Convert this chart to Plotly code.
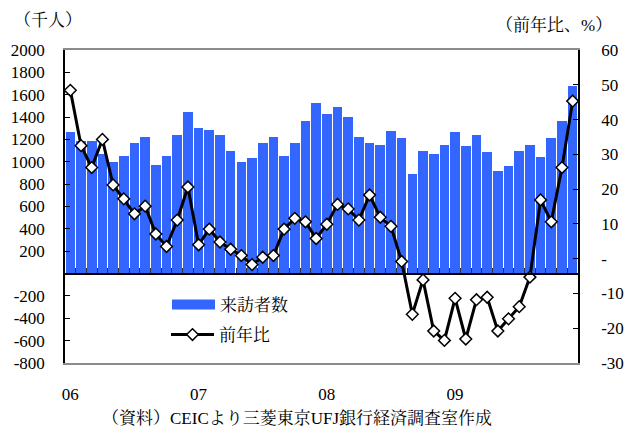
import plotly.graph_objects as go

# ---- data ----
months = list(range(48))  # 2006-01 .. 2009-12
visitors = [1270, 1187, 1187, 1074, 994, 1054, 1170, 1223, 973, 1054, 1241, 1449,
            1304, 1280, 1241, 1098, 994, 1030, 1170, 1223, 1054, 1170, 1366, 1527,
            1429, 1491, 1402, 1223, 1170, 1152, 1277, 1214, 893, 1098, 1071, 1152,
            1268, 1143, 1241, 1089, 920, 964, 1098, 1152, 1045, 1214, 1369, 1679]
yoy = [48.4, 32.5, 26.2, 34.3, 21.2, 17.2, 12.9, 15.1, 7.1, 3.5, 11.1, 20.6,
       4.0, 8.5, 4.8, 2.7, 0.9, -1.7, 0.4, 0.9, 8.5, 11.6, 10.6, 5.8,
       9.9, 15.6, 14.3, 11.1, 18.3, 11.9, 9.3, -0.8, -16.0, -6.1, -20.8, -23.5,
       -11.4, -23.1, -11.8, -11.1, -20.8, -17.3, -13.8, -5.3, 16.9, 10.6, 26.2, 45.3]
year_tick_pos = [0, 12, 24, 36]
year_tick_text = ["06", "07", "08", "09"]
left_ticks = [-800, -600, -400, -200, 0, 200, 400, 600, 800, 1000, 1200, 1400, 1600, 1800, 2000]
left_text = ["-800", "-600", "-400", "-200", "", "200", "400", "600", "800", "1000",
             "1200", "1400", "1600", "1800", "2000"]
right_ticks = [-30, -20, -10, 0, 10, 20, 30, 40, 50, 60]
right_text = ["-30", "-20", "-10", "-", "10", "20", "30", "40", "50", "60"]
month_bounds = [m - 0.5 for m in months] + [47.5]

FAM = "Liberation Serif, Noto Serif CJK JP, Noto Sans CJK JP, serif"
BLUE = "#3366FF"


def F(size=17):
    return dict(family=FAM, size=size, color="black")


# the page body has an 8px margin: the figure is sized so the plot area
# lands at x 65..578, y 50..363 of the window
OFF = 8
W, H = 634 - OFF, 432 - OFF
PL, PR, PT, PB = 65, 578, 50, 363
pw, ph = PR - PL, PB - PT


def px(x):
    return (x - PL) / pw


def py(y):
    return (PB - y) / ph


fig = go.Figure()
fig.add_trace(go.Bar(x=months, y=visitors, name="来訪者数", marker_color=BLUE,
                     marker_line_width=0, width=0.9, xaxis="x", yaxis="y",
                     showlegend=False))
# legend sample for the bars (wide blue swatch)
fig.add_trace(go.Scatter(x=[None], y=[None], name="来訪者数", mode="lines",
                         line=dict(color=BLUE, width=13), xaxis="x", yaxis="y",
                         legend="legend", showlegend=True, hoverinfo="skip"))
fig.add_trace(go.Scatter(x=months, y=yoy, name="前年比", mode="lines+markers",
                         line=dict(color="black", width=3),
                         marker=dict(symbol="diamond", size=9, color="white",
                                     line=dict(color="black", width=1.5)),
                         xaxis="x2", yaxis="y2", legend="legend2", showlegend=True))

fig.update_layout(
    width=W, height=H,
    margin=dict(l=PL - OFF, r=634 - PR, t=PT - OFF, b=432 - PB, autoexpand=False),
    showlegend=True,
    paper_bgcolor="white", plot_bgcolor="white",
    font=F(),
    bargap=0,
    xaxis=dict(range=[-0.5, 47.5], tickvals=year_tick_pos, ticktext=year_tick_text,
               ticks="", showgrid=False, zeroline=False, showline=True,
               linecolor="#8c8c8c", linewidth=1.5, mirror=True, automargin=False,
               ticklabelstandoff=15, tickfont=F()),
    xaxis2=dict(range=[-0.5, 47.5], overlaying="x", anchor="free", position=800 / 2800,
                tickvals=month_bounds, ticks="inside", ticklen=5, tickwidth=1,
                tickcolor="#333", showticklabels=False, showgrid=False, zeroline=False,
                showline=True, linecolor="black", linewidth=1.5, automargin=False),
    yaxis=dict(range=[-800, 2000], tickvals=left_ticks, ticktext=left_text,
               ticks="inside", ticklen=5, tickwidth=1, tickcolor="black",
               showgrid=False, zeroline=False, showline=True, linecolor="black",
               linewidth=1.5, ticklabelstandoff=15, tickfont=F(), automargin=False),
    yaxis2=dict(range=[-30, 60], tickvals=right_ticks, ticktext=right_text,
                overlaying="y", side="right", anchor="x", ticks="inside", ticklen=5,
                tickwidth=1, tickcolor="black", showgrid=False, zeroline=False,
                showline=True, linecolor="black", linewidth=1.5, automargin=False,
                ticklabelstandoff=18, tickfont=F()),
    legend=dict(x=px(167), y=py(305), xanchor="left", yanchor="middle",
                bgcolor="rgba(0,0,0,0)", itemwidth=43, font=F()),
    legend2=dict(x=px(166), y=py(335), xanchor="left", yanchor="middle",
                 bgcolor="rgba(0,0,0,0)", itemwidth=43, font=F()),
    annotations=[
        dict(text="（千人）", xref="paper", yref="paper", x=px(12), y=py(20),
             xanchor="left", yanchor="middle", showarrow=False, font=F()),
        dict(text="（前年比、%）", xref="paper", yref="paper", x=px(614), y=py(25),
             xanchor="right", yanchor="middle", showarrow=False, font=F()),
        dict(text="（資料）CEICより三菱東京UFJ銀行経済調査室作成", xref="paper", yref="paper",
             x=px(100), y=py(418), xanchor="left", yanchor="middle",
             showarrow=False, font=F()),
    ],
)

fig.write_html("out.html")
